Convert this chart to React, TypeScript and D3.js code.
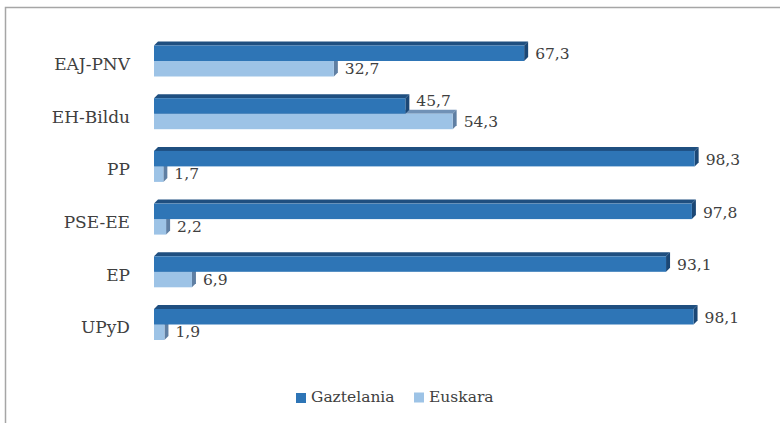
import * as d3 from 'd3';

const categories = ['EAJ-PNV', 'EH-Bildu', 'PP', 'PSE-EE', 'EP', 'UPyD'];
const gaztelania = [67.3, 45.7, 98.3, 97.8, 93.1, 98.1];
const euskara = [32.7, 54.3, 1.7, 2.2, 6.9, 1.9];
const seriesNames = ['Gaztelania', 'Euskara'];

const W = 780;
const H = 423;
const depth = 4;
const barH = 15.5;
const font = 'DejaVu Serif, serif';
const textColor = '#404040';

const colors = {
  gaz: { front: '#2e75b6', top: '#1f4f80', side: '#1b4775' },
  eus: { front: '#9dc3e6', top: '#7091b6', side: '#5f7fa3' },
};

const fmt = (v: number) => v.toFixed(1).replace('.', ',');

// 3D bar: front face, top face, right face
function Bar3D({ x0, x1, y0, h, c }: { x0: number; x1: number; y0: number; h: number; c: { front: string; top: string; side: string } }) {
  const top = `M${x0},${y0} L${x0 + depth},${y0 - depth} L${x1 + depth},${y0 - depth} L${x1},${y0} Z`;
  const side = `M${x1},${y0} L${x1 + depth},${y0 - depth} L${x1 + depth},${y0 + h - depth} L${x1},${y0 + h} Z`;
  return (
    <g>
      <path d={top} fill={c.top} />
      <path d={side} fill={c.side} />
      <rect x={x0} y={y0} width={x1 - x0} height={h} fill={c.front} />
    </g>
  );
}

export default function App() {
  const x = d3.scaleLinear().domain([0, 100]).range([154, 704]);
  const y = d3.scalePoint<string>().domain(categories).range([61, 324.5]);

  return (
    <svg width={W} height={H} style={{ position: 'absolute', left: 0, top: 0, background: '#fff' }}>
      <rect x={0} y={0} width={W} height={H} fill="#fff" />
      {/* frame, cropped at right and bottom */}
      <path d={`M5.5,${H} L5.5,7.5 L${W},7.5`} fill="none" stroke="#a6a6a6" strokeWidth={1.5} />

      {categories.map((cat, i) => {
        const c = y(cat) as number;
        const eusEnd = x(euskara[i]);
        const gazEnd = x(gaztelania[i]);
        // lift Gaztelania label when Euskara bar runs underneath it
        const lift = eusEnd + depth > gazEnd + 11 ? 6 : 0;
        return (
          <g key={cat}>
            <Bar3D x0={x(0)} x1={eusEnd} y0={c} h={barH} c={colors.eus} />
            <Bar3D x0={x(0)} x1={gazEnd} y0={c - barH} h={barH} c={colors.gaz} />
            <text x={130} y={c + 3} dy="0.35em" textAnchor="end" fontFamily={font} fontSize={17} fill={textColor}>
              {cat}
            </text>
            <text x={gazEnd + 11} y={c - 7 - lift} dy="0.35em" fontFamily={font} fontSize={15.5} fill={textColor}>
              {fmt(gaztelania[i])}
            </text>
            <text x={eusEnd + 11} y={c + 7.5} dy="0.35em" fontFamily={font} fontSize={15.5} fill={textColor}>
              {fmt(euskara[i])}
            </text>
          </g>
        );
      })}

      {/* legend */}
      <g>
        <rect x={296} y={393} width={10} height={10} fill={colors.gaz.front} />
        <text x={311} y={397} dy="0.35em" fontFamily={font} fontSize={15.5} fill={textColor}>
          {seriesNames[0]}
        </text>
        <rect x={414} y={392.5} width={10} height={10} fill={colors.eus.front} />
        <text x={429} y={397} dy="0.35em" fontFamily={font} fontSize={15.5} fill={textColor}>
          {seriesNames[1]}
        </text>
      </g>
    </svg>
  );
}
